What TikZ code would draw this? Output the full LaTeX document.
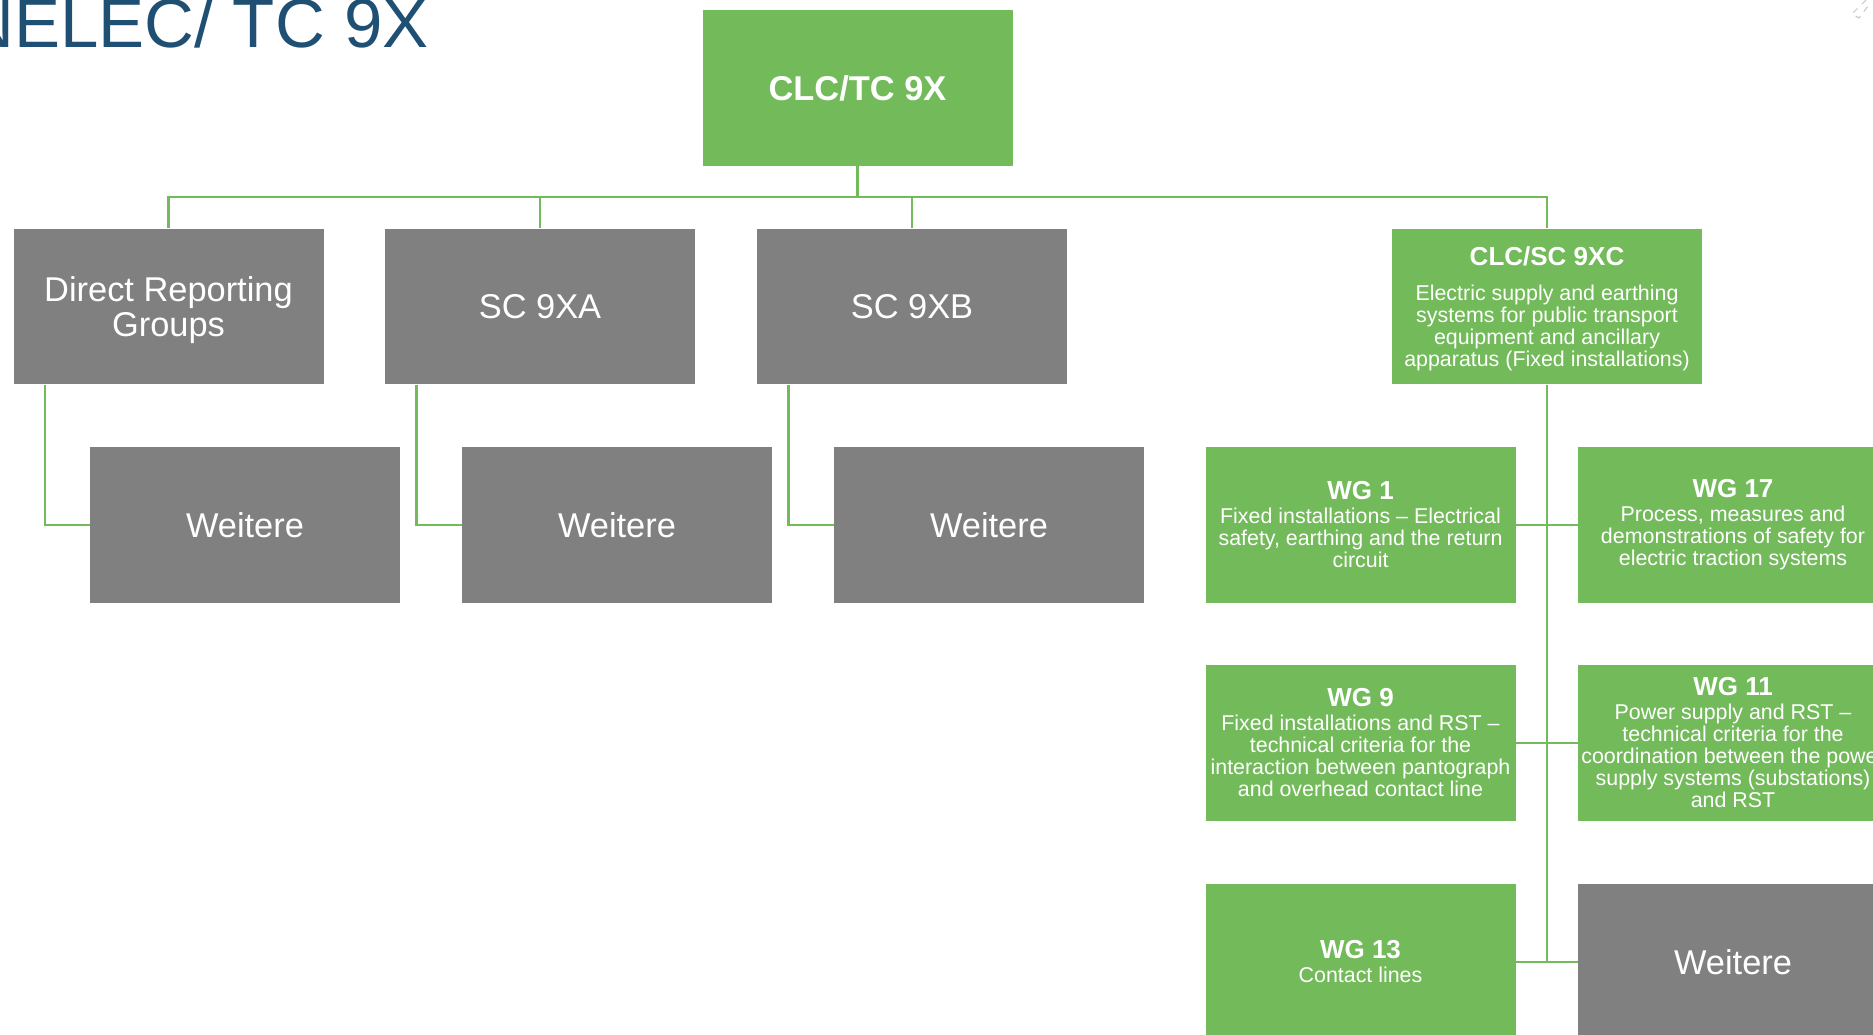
\documentclass[tikz,border=0pt]{standalone}
\usepackage{fontspec}
\setmainfont{Liberation Sans}
\usetikzlibrary{calc}
\definecolor{boxgreen}{RGB}{115,186,91}
\definecolor{boxgray}{RGB}{128,128,128}
\definecolor{titleblue}{RGB}{31,80,115}
\tikzset{
  basebox/.style={rectangle, inner sep=0pt, outer sep=0pt, minimum width=155.5pt, minimum height=78.2pt,
    draw=white, line width=0.4pt, text=white, align=center},
  greenbox/.style={basebox, fill=boxgreen, font=\fontsize{10.7}{11}\selectfont},
  graybox/.style={basebox, fill=boxgray},
  big/.style={font=\fontsize{17.2}{18}\selectfont},
  conn/.style={draw=boxgreen, line width=1.3pt},
}
\newcommand{\wghead}[1]{{\fontsize{13}{11}\selectfont\bfseries #1}}
\newcommand{\lowerby}[2]{\raisebox{0pt}[\dimexpr\height+#1\relax]{#2}}
\begin{document}
\begin{tikzpicture}[x=0.5pt,y=-0.5pt]
\useasboundingbox (0,0) rectangle (1873,1034);
\clip (0,0) rectangle (1873,1034);
\fill[white] (0,0) rectangle (1873,1034);

\node[anchor=base east, inner sep=0pt, text=titleblue, font=\fontsize{34.5}{36}\selectfont] (title) at (429,47) {CENELEC/ TC 9X};

\coordinate (busy) at (0,197);

\node[greenbox, font=\fontsize{17.2}{18}\selectfont\bfseries] (T) at (857.5,88) {CLC/TC 9X};

\node[graybox, big] (DRG) at (168.5,306.5) {\lowerby{3.6pt}{\shortstack{Direct Reporting\\[-1pt]Groups}}};
\node[graybox, big] (SCA) at (540,306.5) {SC 9XA};
\node[graybox, big] (SCB) at (912,306.5) {SC 9XB};
\node[greenbox] (C) at (1547,306.5) {\rule{0pt}{12pt}\wghead{CLC/SC 9XC}\\[6.5pt]Electric supply and earthing\\systems for public transport\\equipment and ancillary\\apparatus (Fixed installations)};

\node[graybox, big] (W1) at (245,525) {Weitere};
\node[graybox, big] (W2) at (617,525) {Weitere};
\node[graybox, big] (W3) at (989,525) {Weitere};

\node[greenbox] (WG1) at (1360.5,525) {\wghead{WG 1}\\[1pt]Fixed installations -- Electrical\\safety, earthing and the return\\circuit};
\node[greenbox] (WG17) at (1733,525) {\wghead{WG 17}\\[1pt]Process, measures and\\demonstrations of safety for\\electric traction systems};
\node[greenbox] (WG9) at (1360.5,743) {\wghead{WG 9}\\[1pt]Fixed installations and RST --\\technical criteria for the\\interaction between pantograph\\and overhead contact line};
\node[greenbox] (WG11) at (1733,743) {\wghead{WG 11}\\[1pt]Power supply and RST --\\technical criteria for the\\coordination between the power\\supply systems (substations)\\and RST};
\node[greenbox] (WG13) at (1360.5,962) {\wghead{WG 13}\\[1pt]Contact lines};
\node[graybox, big] (W4) at (1733,962) {Weitere};

% top bus
\draw[conn] (T.south) -- (T.south |- busy);
\draw[conn] (DRG.north) -- (DRG.north |- busy) -| (C.north);
\draw[conn] (SCA.north) -- (SCA.north |- busy);
\draw[conn] (SCB.north) -- (SCB.north |- busy);

% elbows
\draw[conn] ($(DRG.south west)+(32,0)$) |- (W1.west);
\draw[conn] ($(SCA.south west)+(32,0)$) |- (W2.west);
\draw[conn] ($(SCB.south west)+(32,0)$) |- (W3.west);

% right trunk
\draw[conn] (C.south) -- (C.south |- WG13.east);
\draw[conn] (WG1.east) -- (WG17.west);
\draw[conn] (WG9.east) -- (WG11.west);
\draw[conn] (WG13.east) -- (W4.west);

% small dashed mark at top right
\draw[dashed, gray!45, line width=0.5pt] (1866,0) -- (1852,14) -- (1859,18) -- (1871,2);
\end{tikzpicture}
\end{document}
